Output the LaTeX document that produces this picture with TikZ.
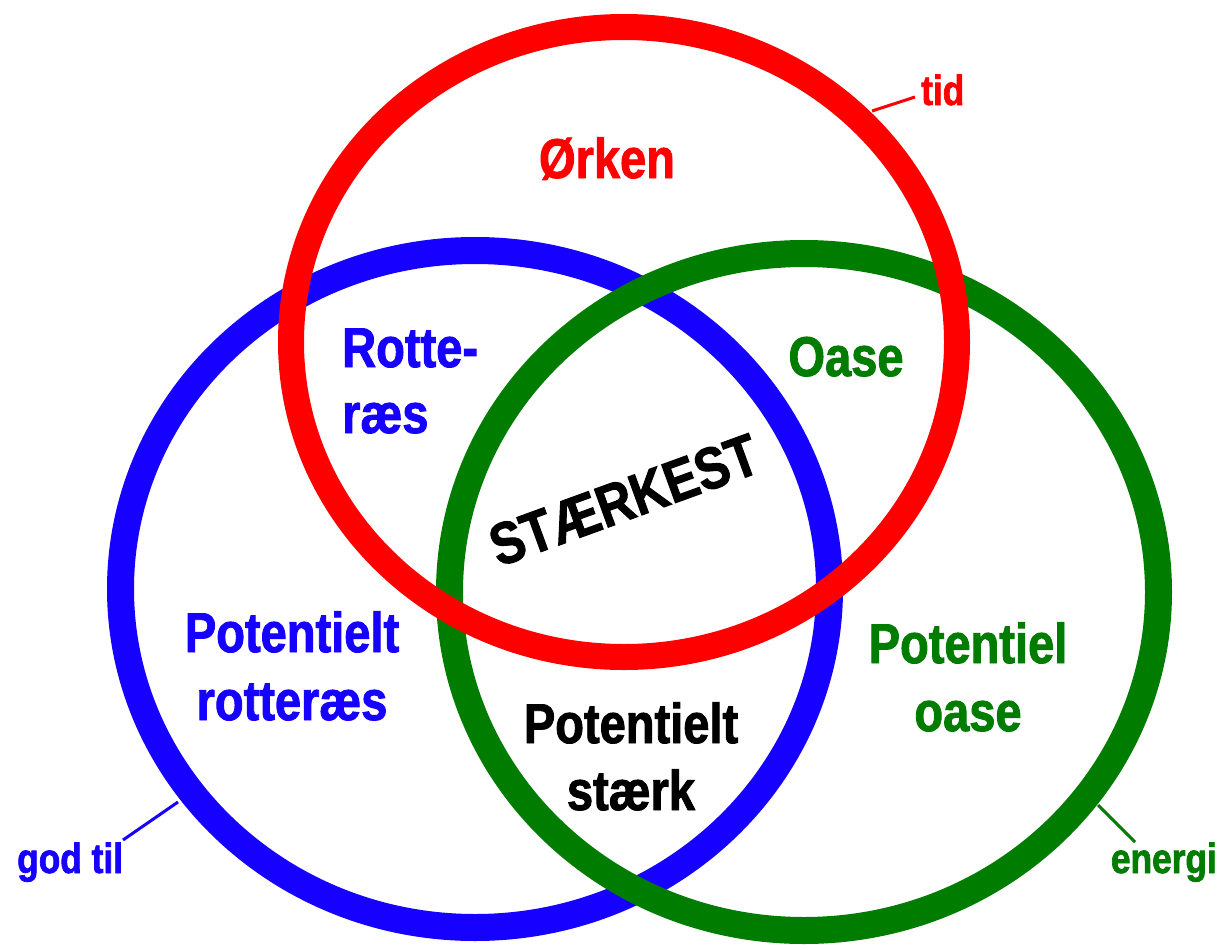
\documentclass[tikz,border=0pt]{standalone}
\usepackage{fontspec}
\newfontfamily\cf{Liberation Sans}[FakeStretch=0.84, BoldFeatures={FakeBold=1.6}]
\definecolor{rred}{RGB}{255,0,0}
\definecolor{rblue}{RGB}{22,0,255}
\definecolor{rgreen}{RGB}{0,125,0}
\begin{document}
\begin{tikzpicture}[x=1pt,y=-1pt,
  ring/.style={line width=27pt},
  lab/.style={font=\cf\bfseries\fontsize{56}{60}\selectfont, anchor=base, inner sep=0pt},
  biglab/.style={font=\cf\bfseries\fontsize{59}{62}\selectfont, inner sep=0pt},
  smalllab/.style={font=\cf\bfseries\fontsize{42}{46}\selectfont, anchor=base, inner sep=0pt},
  conn/.style={line width=3pt}]
\fill[white] (0,0) rectangle (1218,950);
\useasboundingbox (0,0) rectangle (1218,950);
% rings
\draw[ring, rblue] (475,589) ellipse [x radius=354.5pt, y radius=338.5pt];
\draw[ring, rgreen] (804,592) ellipse [x radius=354.5pt, y radius=338.5pt];
\draw[ring, line width=26pt, rred] (624,342) ellipse [x radius=333pt, y radius=315pt];
% connectors
\coordinate (tidA) at (872,111);
\coordinate (tidB) at (915,97);
\coordinate (godA) at (178,802);
\coordinate (godB) at (123,840);
\coordinate (enA) at (1098,805);
\coordinate (enB) at (1135,842);
\draw[conn, rred] (tidA) -- (tidB);
\draw[conn, rblue] (godA) -- (godB);
\draw[conn, rgreen] (enA) -- (enB);
% small labels
\node[smalllab, rred, anchor=base west] (tid) at (921,105) {tid};
\node[smalllab, rblue, anchor=base west] (god) at (17,873) {god til};
\node[smalllab, rgreen, anchor=base east] (en) at (1217,873) {energi};
% region labels
\node[lab, rred] (orken) at (607,178) {Ørken};
\node[lab, rblue, anchor=base west] (rot1) at (342,367) {Rotte-};
\node[lab, rblue, anchor=base west] (rot2) at (342,433) {ræs};
\node[lab, rgreen] (oase) at (846,376) {Oase};
\node[lab, rblue] (pr1) at (292,652) {Potentielt};
\node[lab, rblue] (pr2) at (292,720) {rotteræs};
\node[lab, rgreen] (po1) at (968,663) {Potentiel};
\node[lab, rgreen] (po2) at (968,731) {oase};
\node[lab, black] (ps1) at (631,743) {Potentielt};
\node[lab, black] (ps2) at (631,810) {stærk};
\node[biglab, black, anchor=center, rotate=20] (st) at (624,500) {STÆRKEST};
\end{tikzpicture}
\end{document}
